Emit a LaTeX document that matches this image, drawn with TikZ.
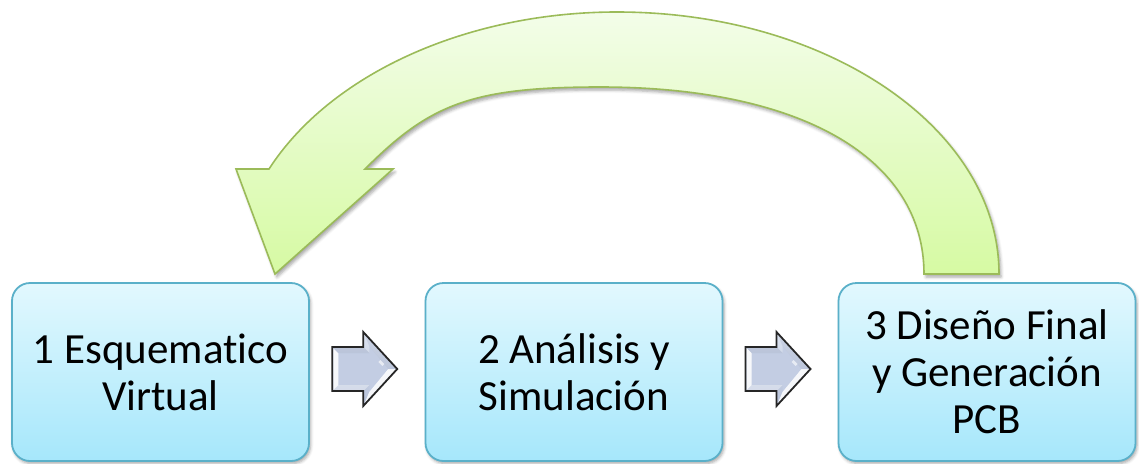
\documentclass[tikz,border=0pt]{standalone}
\usepackage{fontspec}
\setmainfont{Carlito}[Ligatures=NoCommon]
\usetikzlibrary{shadows.blur,calc}

\definecolor{boxtop}{HTML}{E2F8FE}
\definecolor{boxbot}{HTML}{A6E7FB}
\definecolor{boxline}{HTML}{5AB0C9}
\definecolor{loophigh}{HTML}{F3FDE9}
\definecolor{looplow}{HTML}{D6FAA3}
\definecolor{loopline}{HTML}{9BBB59}
\definecolor{arrtop}{HTML}{DCE3F0}
\definecolor{arrbot}{HTML}{B6C1D9}
\definecolor{arrface}{HTML}{C3CDE3}
\definecolor{arrdark}{HTML}{9AA6C2}

\tikzset{
  stage/.style={draw=boxline, line width=1.8pt, rounded corners=18pt,
    top color=boxtop, bottom color=boxbot,
    minimum width=297pt, minimum height=178pt, inner sep=0pt,
    align=center, font=\fontsize{43}{47}\selectfont,
    blur shadow={shadow xshift=1.5pt, shadow yshift=-2.5pt,
      shadow blur radius=3pt, shadow opacity=35}},
  looparrow/.style={draw=loopline, line width=1.6pt, line join=miter,
    top color=loophigh, bottom color=looplow,
    blur shadow={shadow xshift=2pt, shadow yshift=-3pt,
      shadow blur radius=3pt, shadow opacity=35}},
  pics/steparrow/.style={code={
    % bevelled block arrow, centred on the pic origin
    \path[top color=arrtop, bottom color=arrbot]
      (-33,-22) -- (-2,-22) -- (-2,-37) -- (32,0) -- (-2,37) -- (-2,22) -- (-33,22) -- cycle;
    % inner face
    \fill[arrface] (-27,-16) -- (4,-16) -- (4,-23) -- (23,0) -- (4,23) -- (4,16) -- (-27,16) -- cycle;
    % bevel faces
    \fill[white, opacity=.85] (-32,-21) -- (-27,-16) -- (-27,16) -- (-32,21) -- cycle;
    \fill[white, opacity=.35] (-32,21) -- (-27,16) -- (4,16) -- (-1,21) -- cycle;
    \fill[white, opacity=.85] (31,0) -- (23,0) -- (4,23) -- (-1,35) -- cycle;
    \fill[arrdark, opacity=.4] (-32,-21) -- (-1,-21) -- (4,-16) -- (-27,-16) -- cycle;
    \fill[arrdark, opacity=.25] (-1,-35) -- (31,0) -- (23,0) -- (4,-23) -- cycle;
    \fill[white, opacity=.6] (15,-9) -- (19,-5) -- (17,-3) -- (13,-7) -- cycle;
    % outline
    \draw[black!85, line width=1.8pt, line join=miter]
      (-33,-22) -- (-2,-22) -- (-2,-37) -- (32,0) -- (-2,37) -- (-2,22) -- (-33,22) -- cycle;
  }}
}

\begin{document}
\begin{tikzpicture}[x=1pt, y=-1pt]
  \useasboundingbox (0,0) rectangle (1139,463);

  % the three stages
  \node[stage] (s1) at (160.5,372) {1 Esquematico\\Virtual};
  \node[stage] (s2) at (574,372) {2 Análisis y\\Simulación};
  \node[stage] (s3) at (987,372) {3 Diseño Final\\y Generación\\PCB};

  % step arrows between the stages
  \pic at ($($(s1.east)!0.5!(s2.west)$)+(-2,-3)$) {steparrow};
  \pic at ($($(s2.east)!0.5!(s3.west)$)+(-2,-3)$) {steparrow};

  % feedback arrow from stage 3 back to stage 1
  \path[looparrow]
    (999,274) .. controls (999,129) and (828,12) .. (617,12)
    .. controls (466,12) and (330,74.5) .. (269,169)
    -- (236,169) -- (275,274) -- (393,169) -- (365,169)
    .. controls (429,105) and (470,87) .. (600,87)
    .. controls (801,87) and (924,158) .. (924,274) -- cycle;
\end{tikzpicture}
\end{document}
